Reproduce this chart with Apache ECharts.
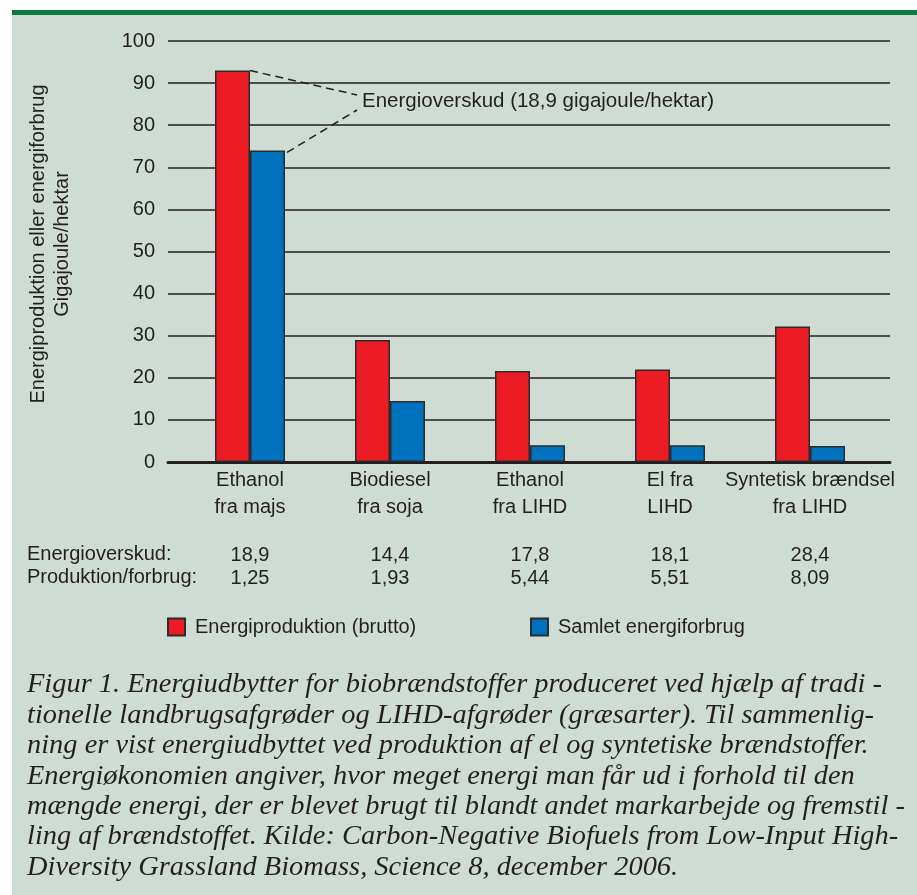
<!DOCTYPE html>
<html><head><meta charset="utf-8">
<script src="https://cdn.jsdelivr.net/npm/echarts@6/dist/echarts.min.js"></script>
<style>html,body{margin:0;padding:0;background:#fff}#c{width:917px;height:895px}</style>
</head><body><div id="c"></div>
<script>
const categories = ['Ethanol\nfra majs', 'Biodiesel\nfra soja', 'Ethanol\nfra LIHD', 'El fra\nLIHD', 'Syntetisk brændsel\nfra LIHD'];
const production = [93, 29, 21.6, 22, 32.2];
const consumption = [74, 14.5, 4, 4, 3.8];
const surplus = ['18,9', '14,4', '17,8', '18,1', '28,4'];
const ratio = ['1,25', '1,93', '5,44', '5,51', '8,09'];
const yTicks = [0, 100, 10];
const seriesNames = ['Energiproduktion (brutto)', 'Samlet energiforbrug'];
const captionLines = [
  'Figur 1. Energiudbytter for biobrændstoffer produceret ved hjælp af tradi -',
  'tionelle landbrugsafgrøder og LIHD-afgrøder (græsarter). Til sammenlig-',
  'ning er vist energiudbyttet ved produktion af el og syntetiske brændstoffer.',
  'Energiøkonomien angiver, hvor meget energi man får ud i forhold til den',
  'mængde energi, der er blevet brugt til blandt andet markarbejde og fremstil -',
  'ling af brændstoffet. Kilde: Carbon-Negative Biofuels from Low-Input High-',
  'Diversity Grassland Biomass, Science 8, december 2006.'
];

const TXT = '#231f20';
const FONT = 'Liberation Sans, Arial, sans-serif';
const FS = 20;
const chart = echarts.init(document.getElementById('c'), null, {renderer: 'canvas'});

const graphic = [
  {type: 'rect', shape: {x: 12, y: 10, width: 905, height: 885}, style: {fill: '#cfdcd3'}, z: -10},
  {type: 'rect', shape: {x: 12, y: 10, width: 905, height: 5}, style: {fill: '#0b7a3c'}, z: -9},
  {type: 'text', x: 50, y: 244, rotation: Math.PI / 2,
   style: {text: 'Energiproduktion eller energiforbrug\nGigajoule/hektar', font: FS + 'px ' + FONT, fill: TXT,
           align: 'center', verticalAlign: 'middle', lineHeight: 24}},
  {type: 'text', x: 27, y: 554, style: {text: 'Energioverskud:', font: FS + 'px ' + FONT, fill: TXT, verticalAlign: 'middle'}},
  {type: 'text', x: 27, y: 577, style: {text: 'Produktion/forbrug:', font: FS + 'px ' + FONT, fill: TXT, verticalAlign: 'middle'}},
  {type: 'text', x: 362, y: 101, style: {text: 'Energioverskud (18,9 gigajoule/hektar)', font: '20.5px ' + FONT, fill: TXT, verticalAlign: 'middle'}}
];
captionLines.forEach((t, i) => {
  graphic.push({type: 'text', x: 27, y: 685 + i * 30.4, scaleX: 1.015,
    style: {text: t, font: 'italic 28px "Liberation Serif", "Times New Roman", serif', fill: TXT, verticalAlign: 'middle'}});
});

const option = {
  animation: false,
  backgroundColor: '#ffffff',
  textStyle: {fontFamily: FONT},
  grid: [
    {left: 168, right: 27, top: 41, bottom: 433},
    {left: 180, right: 37, top: 41, bottom: 433}
  ],
  xAxis: [
    {gridIndex: 0, type: 'value', min: 0, max: 1, axisLine: {show: true, lineStyle: {color: TXT, width: 3}},
     axisTick: {show: false}, axisLabel: {show: false}, splitLine: {show: false}},
    {gridIndex: 1, type: 'category', data: categories, axisLine: {show: false}, axisTick: {show: false},
     axisLabel: {fontSize: FS, color: TXT, lineHeight: 27, margin: 5, interval: 0}},
    {gridIndex: 1, type: 'category', position: 'bottom', offset: 75,
     data: surplus.map((s, i) => s + '\n' + ratio[i]), axisLine: {show: false}, axisTick: {show: false},
     axisLabel: {fontSize: FS, color: TXT, lineHeight: 23, margin: 6.5, interval: 0}}
  ],
  yAxis: [
    {gridIndex: 0, type: 'value', min: yTicks[0], max: yTicks[1], interval: yTicks[2],
     axisLine: {show: false}, axisTick: {show: false},
     axisLabel: {fontSize: FS, color: TXT, margin: 13},
     splitLine: {lineStyle: {color: TXT, width: 1.5}}},
    {gridIndex: 1, type: 'value', min: yTicks[0], max: yTicks[1], show: false}
  ],
  legend: [
    {left: 162, top: 612, itemWidth: 17, itemHeight: 17, itemGap: 10, data: [seriesNames[0]],
     textStyle: {fontSize: FS, color: TXT, padding: [0, 0, 0, 5]}, icon: 'rect'},
    {left: 525, top: 612, itemWidth: 17, itemHeight: 17, itemGap: 10, data: [seriesNames[1]],
     textStyle: {fontSize: FS, color: TXT, padding: [0, 0, 0, 5]}, icon: 'rect'}
  ],
  series: [
    {name: seriesNames[0], type: 'bar', xAxisIndex: 1, yAxisIndex: 1, data: production, barWidth: 35, barGap: '0%',
     itemStyle: {color: '#ed1c24', borderColor: '#2b2b2b', borderWidth: 1.5}, z: 5},
    {name: seriesNames[1], type: 'bar', xAxisIndex: 1, yAxisIndex: 1, data: consumption, barWidth: 35, barGap: '0%',
     itemStyle: {color: '#0071bc', borderColor: '#2b2b2b', borderWidth: 1.5}, z: 5}
  ],
  graphic: graphic
};
chart.setOption(option);

// dashed annotation lines from the first category's bar tops to the label
const pRed = chart.convertToPixel({xAxisIndex: 1, yAxisIndex: 1}, [0, production[0]]);
const pBlue = chart.convertToPixel({xAxisIndex: 1, yAxisIndex: 1}, [0, consumption[0]]);
graphic.push(
  {type: 'line', shape: {x1: pRed[0], y1: pRed[1], x2: 357, y2: 95}, style: {stroke: TXT, lineWidth: 1.5, lineDash: [8, 5]}, z: 10},
  {type: 'line', shape: {x1: pBlue[0] + 37, y1: pBlue[1] + 2, x2: 357, y2: 110}, style: {stroke: TXT, lineWidth: 1.5, lineDash: [8, 5]}, z: 10}
);
chart.setOption({graphic: graphic});
</script></body></html>
